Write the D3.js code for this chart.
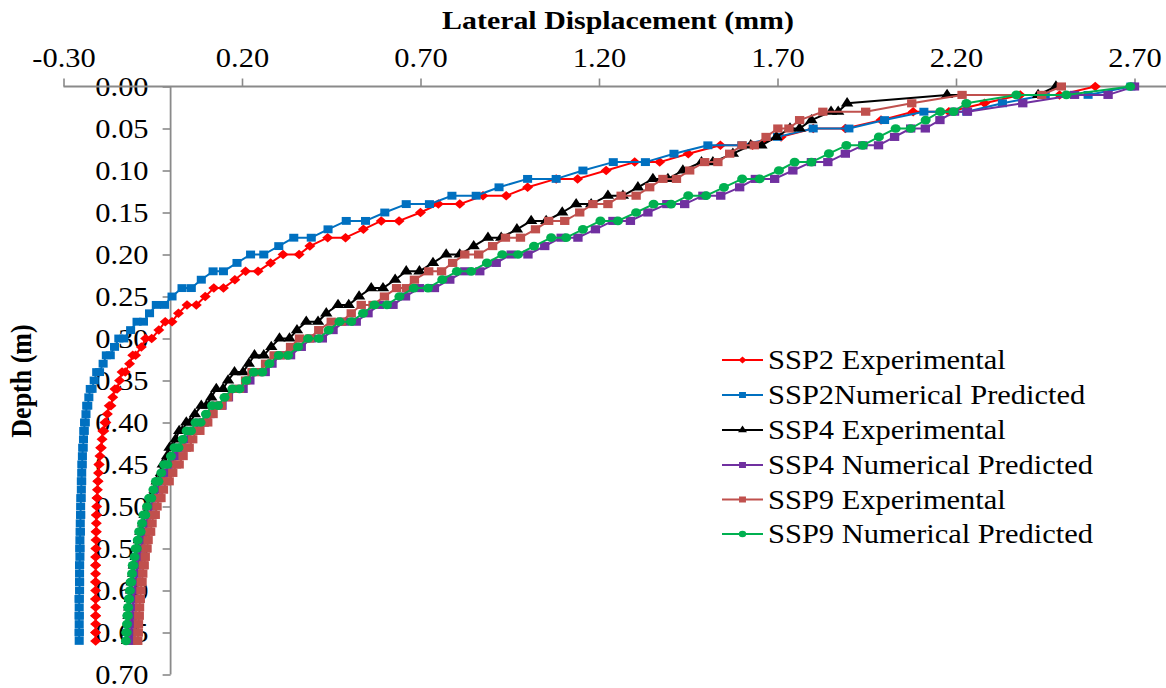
<!DOCTYPE html>
<html>
<head>
<meta charset="utf-8">
<script src="https://cdn.jsdelivr.net/npm/d3@7"></script>
<style>
  html, body { margin: 0; padding: 0; background: #ffffff; }
  svg { display: block; }
  text { font-family: "Liberation Serif", "Times New Roman", serif; fill: #000; }
</style>
</head>
<body>
<svg id="chart" width="1166" height="688"></svg>
<script>
// Depth of each reading (m); the same stations are used by every series.
const depth = [
  0.00,0.01,0.01,0.02,0.03,0.03,0.04,0.05,0.05,0.06,
  0.07,0.07,0.08,0.09,0.09,0.10,0.11,0.11,0.12,0.13,
  0.13,0.14,0.14,0.15,0.16,0.16,0.17,0.18,0.18,0.19,
  0.20,0.20,0.21,0.22,0.22,0.23,0.24,0.24,0.25,0.26,
  0.26,0.27,0.28,0.28,0.29,0.30,0.30,0.31,0.32,0.32,
  0.33,0.34,0.34,0.35,0.36,0.36,0.37,0.38,0.38,0.39,
  0.40,0.40,0.41,0.41,0.42,0.43,0.43,0.44,0.45,0.45,
  0.46,0.47,0.47,0.48,0.49,0.49,0.50,0.51,0.51,0.52,
  0.53,0.53,0.54,0.55,0.55,0.56,0.57,0.57,0.58,0.59,
  0.59,0.60,0.61,0.61,0.62,0.63,0.63,0.64,0.65,0.65,
  0.66
];

// Lateral displacement (mm) at each depth.
const ssp2Experimental = [
  2.59,2.49,2.38,2.28,2.18,2.08,1.99,1.89,1.80,1.71,
  1.63,1.54,1.45,1.37,1.30,1.22,1.14,1.08,1.00,0.94,
  0.875,0.81,0.75,0.70,0.64,0.59,0.54,0.49,0.44,0.39,
  0.36,0.315,0.28,0.245,0.21,0.18,0.148,0.121,0.097,0.072,
  0.046,0.022,0.004,-0.015,-0.033,-0.053,-0.070,-0.082,-0.098,-0.106,
  -0.115,-0.127,-0.136,-0.143,-0.150,-0.156,-0.162,-0.167,-0.172,-0.177,
  -0.181,-0.184,-0.187,-0.190,-0.192,-0.194,-0.196,-0.198,-0.200,-0.201,
  -0.202,-0.203,-0.204,-0.205,-0.206,-0.206,-0.207,-0.207,-0.208,-0.208,
  -0.208,-0.209,-0.209,-0.209,-0.209,-0.210,-0.210,-0.210,-0.210,-0.210,
  -0.210,-0.210,-0.210,-0.210,-0.210,-0.210,-0.210,-0.210,-0.210,-0.210,
  -0.210
];
const ssp2Numerical = [
  2.69,2.57,2.45,2.33,2.23,2.11,2.00,1.90,1.80,1.70,
  1.60,1.505,1.41,1.33,1.24,1.155,1.08,1.00,0.92,0.856,
  0.788,0.725,0.66,0.60,0.546,0.492,0.441,0.394,0.345,0.303,
  0.261,0.224,0.186,0.148,0.119,0.086,0.058,0.032,0.004,-0.017,
  -0.040,-0.059,-0.076,-0.094,-0.112,-0.131,-0.145,-0.157,-0.169,-0.180,
  -0.189,-0.199,-0.207,-0.214,-0.220,-0.225,-0.229,-0.232,-0.235,-0.237,
  -0.239,-0.241,-0.242,-0.243,-0.244,-0.245,-0.246,-0.247,-0.248,-0.248,
  -0.249,-0.249,-0.250,-0.250,-0.251,-0.251,-0.252,-0.252,-0.252,-0.253,
  -0.253,-0.253,-0.254,-0.254,-0.254,-0.254,-0.255,-0.255,-0.255,-0.255,
  -0.255,-0.255,-0.256,-0.256,-0.256,-0.256,-0.256,-0.256,-0.256,-0.256,
  -0.256
];
const ssp4Experimental = [
  2.48,2.43,2.175,1.895,1.87,1.85,1.795,1.762,1.735,1.697,
  1.655,1.625,1.575,1.519,1.487,1.435,1.393,1.351,1.309,1.267,
  1.225,1.178,1.136,1.097,1.052,1.010,0.970,0.926,0.889,0.849,
  0.810,0.772,0.735,0.697,0.660,0.629,0.595,0.562,0.528,0.499,
  0.469,0.436,0.413,0.380,0.354,0.333,0.305,0.282,0.261,0.235,
  0.219,0.203,0.179,0.161,0.147,0.128,0.114,0.100,0.086,0.068,
  0.055,0.044,0.033,0.024,0.014,0.005,-0.003,-0.010,-0.016,-0.022,
  -0.027,-0.033,-0.039,-0.045,-0.051,-0.057,-0.063,-0.068,-0.073,-0.077,
  -0.081,-0.085,-0.089,-0.092,-0.095,-0.098,-0.101,-0.103,-0.105,-0.107,
  -0.109,-0.111,-0.113,-0.114,-0.116,-0.117,-0.118,-0.119,-0.120,-0.121,
  -0.122
];
const ssp4Numerical = [
  2.70,2.626,2.532,2.387,2.232,2.196,2.155,2.114,2.073,2.028,
  1.983,1.939,1.890,1.841,1.795,1.743,1.692,1.638,1.594,1.541,
  1.491,1.440,1.390,1.337,1.288,1.239,1.190,1.141,1.094,1.048,
  1.001,0.954,0.912,0.866,0.824,0.782,0.739,0.697,0.658,0.623,
  0.585,0.553,0.520,0.487,0.455,0.425,0.394,0.366,0.336,0.307,
  0.284,0.265,0.242,0.222,0.203,0.183,0.162,0.144,0.127,0.110,
  0.095,0.081,0.068,0.056,0.045,0.034,0.023,0.013,0.003,-0.006,
  -0.014,-0.022,-0.029,-0.036,-0.042,-0.048,-0.053,-0.058,-0.063,-0.067,
  -0.071,-0.075,-0.079,-0.082,-0.085,-0.088,-0.091,-0.093,-0.095,-0.097,
  -0.099,-0.101,-0.103,-0.104,-0.106,-0.107,-0.108,-0.109,-0.110,-0.111,
  -0.112
];
const ssp9Experimental = [
  2.495,2.44,2.217,2.076,1.947,1.827,1.762,1.732,1.701,1.668,
  1.635,1.601,1.566,1.533,1.496,1.454,1.417,1.379,1.342,1.304,
  1.262,1.225,1.183,1.146,1.104,1.059,1.022,0.980,0.938,0.902,
  0.863,0.824,0.790,0.759,0.723,0.683,0.661,0.633,0.599,0.567,
  0.534,0.506,0.478,0.450,0.415,0.389,0.361,0.336,0.313,0.290,
  0.266,0.247,0.228,0.210,0.193,0.178,0.160,0.142,0.130,0.119,
  0.104,0.093,0.082,0.072,0.062,0.052,0.044,0.035,0.024,0.016,
  0.006,-0.004,-0.012,-0.020,-0.027,-0.033,-0.038,-0.043,-0.048,-0.052,
  -0.056,-0.059,-0.063,-0.066,-0.069,-0.071,-0.074,-0.076,-0.078,-0.080,
  -0.082,-0.083,-0.085,-0.086,-0.087,-0.088,-0.089,-0.090,-0.091,-0.091,
  -0.092
];
const ssp9Numerical = [
  2.688,2.509,2.369,2.229,2.193,2.156,2.115,2.073,2.031,1.984,
  1.939,1.893,1.844,1.795,1.748,1.704,1.650,1.601,1.550,1.500,
  1.450,1.402,1.353,1.304,1.253,1.204,1.155,1.108,1.066,1.018,
  0.973,0.929,0.886,0.842,0.802,0.761,0.721,0.681,0.641,0.606,
  0.571,0.539,0.506,0.473,0.443,0.415,0.385,0.357,0.329,0.303,
  0.277,0.257,0.233,0.212,0.193,0.173,0.151,0.133,0.116,0.099,
  0.084,0.070,0.057,0.045,0.034,0.022,0.011,0.001,-0.009,-0.018,
  -0.026,-0.034,-0.041,-0.048,-0.054,-0.060,-0.066,-0.071,-0.076,-0.080,
  -0.084,-0.088,-0.092,-0.095,-0.098,-0.101,-0.104,-0.106,-0.108,-0.110,
  -0.112,-0.114,-0.116,-0.117,-0.119,-0.120,-0.121,-0.122,-0.123,-0.124,
  -0.125
];

const seriesNames = [
  "SSP2 Experimental",
  "SSP2Numerical Predicted",
  "SSP4 Experimental",
  "SSP4 Numerical Predicted",
  "SSP9 Experimental",
  "SSP9 Numerical Predicted"
];
const seriesValues = [ssp2Experimental, ssp2Numerical, ssp4Experimental,
                      ssp4Numerical, ssp9Experimental, ssp9Numerical];

const xTicks = [-0.3, 0.2, 0.7, 1.2, 1.7, 2.2, 2.7];
const xTickLabels = ["-0.30", "0.20", "0.70", "1.20", "1.70", "2.20", "2.70"];
const yTicks = [0, 0.05, 0.1, 0.15, 0.2, 0.25, 0.3, 0.35, 0.4, 0.45, 0.5, 0.55, 0.6, 0.65, 0.7];
const yTickLabels = ["0.00","0.05","0.10","0.15","0.20","0.25","0.30","0.35",
                     "0.40","0.45","0.50","0.55","0.60","0.65","0.70"];

// ---- styling ----
const W = 1166, H = 688;
const SX = 1.15;          // text is drawn slightly wide
const FS = 26.5;
const axisColor = "#8a8a8a";
const styles = [
  { color: "#FF0000", symbol: d3.symbolDiamond2, size: 58, legendSize: 30 },
  { color: "#0070C0", symbol: d3.symbolSquare,   size: 62, legendSize: 36 },
  { color: "#000000", symbol: d3.symbolTriangle, size: 50, legendSize: 26 },
  { color: "#7030A0", symbol: d3.symbolSquare,   size: 66, legendSize: 36 },
  { color: "#C0504D", symbol: d3.symbolSquare,   size: 66, legendSize: 36 },
  { color: "#00B050", symbol: d3.symbolCircle,   size: 60, legendSize: 32 }
];

const svg = d3.select("#chart");
svg.append("rect").attr("width", W).attr("height", H).attr("fill", "#fff");

const x = d3.scaleLinear().domain([-0.3, 2.7]).range([63.5, 1134.5]);
const y = d3.scaleLinear().domain([0, 0.7]).range([86.5, 674.5]);

// ---- axes ----
const gx = svg.append("g")
  .attr("transform", `translate(0,${y(0)})`)
  .call(d3.axisTop(x).tickValues(xTicks).tickSizeInner(8).tickSizeOuter(0)
        .tickFormat((d, i) => xTickLabels[i]));
gx.attr("font-family", null).attr("font-size", null);
gx.select(".domain").remove();
gx.selectAll(".tick line").attr("stroke", axisColor).attr("stroke-width", 1.6);
gx.selectAll(".tick text")
  .attr("font-size", FS).attr("fill", "#000")
  .attr("y", -20).attr("dy", 0)
  .attr("transform", `scale(${SX},1)`);

const gy = svg.append("g")
  .attr("transform", `translate(${x(0)},0)`)
  .call(d3.axisLeft(y).tickValues(yTicks).tickSizeInner(8).tickSizeOuter(0)
        .tickFormat((d, i) => yTickLabels[i]));
gy.attr("font-family", null).attr("font-size", null);
gy.select(".domain").remove();
gy.selectAll(".tick line").attr("stroke", axisColor).attr("stroke-width", 1.6);
gy.selectAll(".tick text")
  .attr("font-size", FS).attr("fill", "#000")
  .attr("x", -22 / SX).attr("dy", "0.33em")
  .attr("transform", `scale(${SX},1)`);

// axis lines
svg.append("line")
  .attr("x1", x(-0.3)).attr("x2", W).attr("y1", y(0)).attr("y2", y(0))
  .attr("stroke", axisColor).attr("stroke-width", 1.8);
svg.append("line")
  .attr("x1", x(0)).attr("x2", x(0)).attr("y1", y(0)).attr("y2", y(0.7))
  .attr("stroke", axisColor).attr("stroke-width", 1.8);

// axis titles
svg.append("text")
  .attr("transform", `translate(618,29) scale(${SX},1)`)
  .attr("text-anchor", "middle").attr("font-weight", "bold").attr("font-size", FS - 0.5)
  .text("Lateral Displacement (mm)");
svg.append("text")
  .attr("transform", `translate(31,381) scale(${SX},1) rotate(-90)`)
  .attr("text-anchor", "middle").attr("font-weight", "bold").attr("font-size", FS - 0.5)
  .text("Depth (m)");

// ---- series ----
const line = d3.line().x(p => x(p.v)).y(p => y(p.d));
const plot = svg.append("g");
seriesValues.forEach((vals, s) => {
  const st = styles[s];
  const pts = depth.map((d, i) => ({ d, v: vals[i] }));
  const g = plot.append("g");
  g.append("path").datum(pts)
    .attr("d", line).attr("fill", "none")
    .attr("stroke", st.color).attr("stroke-width", 2)
    .attr("stroke-linejoin", "round");
  g.selectAll("path.mk").data(pts).join("path")
    .attr("class", "mk")
    .attr("d", d3.symbol(st.symbol, st.size))
    .attr("transform", p => `translate(${x(p.v)},${y(p.d)}) scale(${SX},1)`)
    .attr("fill", st.color);
});

// ---- legend ----
const legendY = [360, 395, 430, 465, 499.5, 534];
const lg = svg.append("g");
seriesNames.forEach((name, s) => {
  const st = styles[s];
  const cy = legendY[s];
  lg.append("line")
    .attr("x1", 722).attr("x2", 763).attr("y1", cy).attr("y2", cy)
    .attr("stroke", st.color).attr("stroke-width", 2);
  lg.append("path")
    .attr("d", d3.symbol(st.symbol, st.legendSize))
    .attr("transform", `translate(742.5,${cy}) scale(${SX},1)`)
    .attr("fill", st.color);
  lg.append("text")
    .attr("transform", `translate(768,${cy + 9}) scale(${SX},1)`)
    .attr("font-size", FS)
    .text(name);
});
</script>
</body>
</html>
